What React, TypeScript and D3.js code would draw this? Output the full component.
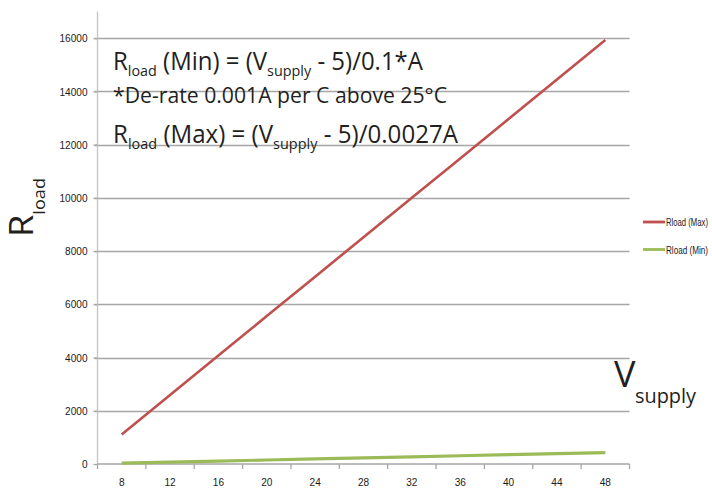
import * as React from "react";
import * as d3 from "d3";

const categories: string[] = ["8", "12", "16", "20", "24", "28", "32", "36", "40", "44", "48"];
const rloadMax: number[] = [1111, 2593, 4074, 5556, 7037, 8519, 10000, 11481, 12963, 14444, 15926];
const rloadMin: number[] = [30, 70, 110, 150, 190, 230, 270, 310, 350, 390, 430];
const yTicks: number[] = [0, 2000, 4000, 6000, 8000, 10000, 12000, 14000, 16000];
const seriesNames: string[] = ["Rload (Max)", "Rload (Min)"];

const red: string = "#c0504d";
const green: string = "#9bbb59";
const gridGrey: string = "#a6a6a6";
const axisGrey: string = "#c4c4c4";
const mainFont: string = "'Open Sans', 'DejaVu Sans', sans-serif";
const narrowFont: string = "'Liberation Sans', 'DejaVu Sans', sans-serif";

const W: number = 712;
const H: number = 490;
const plot = { left: 97.5, right: 629.5, top: 11.5, bottom: 464 };
const digitW: number = 5.6; // condensed digit width

export default function App(): JSX.Element {
    const ref = React.useRef<SVGGElement>(null);

    React.useEffect(() => {
        document.body.style.margin = "0";
        const g = d3.select(ref.current);
        g.selectAll("*").remove();

        const x = d3.scaleBand<string>().domain(categories).range([plot.left, plot.right]).padding(0);
        const y = d3.scaleLinear().domain([0, 17000]).range([plot.bottom, plot.top]);
        const cx = (c: string): number => (x(c) as number) + x.bandwidth() / 2;

        // gridlines
        g.append("g")
            .selectAll("line")
            .data(yTicks.filter((t) => t > 0))
            .enter().append("line")
            .attr("x1", plot.left - 3)
            .attr("x2", plot.right)
            .attr("y1", (d) => Math.round(y(d)) + 0.5)
            .attr("y2", (d) => Math.round(y(d)) + 0.5)
            .attr("stroke", gridGrey)
            .attr("stroke-width", 1.3);

        // y axis
        const yAxis = d3.axisLeft(y).tickValues(yTicks).tickSize(4).tickPadding(6).tickFormat(d3.format("d"));
        const yG = g.append("g").attr("transform", `translate(${plot.left},0)`).call(yAxis);
        yG.select(".domain").attr("stroke", axisGrey).attr("stroke-width", 1.3).attr("d", `M0,${plot.bottom}V${plot.top}`);
        yG.selectAll(".tick line").attr("stroke", gridGrey).attr("stroke-width", 1.3);
        yG.selectAll<SVGTextElement, number>(".tick text")
            .attr("font-family", narrowFont)
            .attr("font-size", 11.5)
            .attr("fill", "#1a1a1a")
            .attr("textLength", (d) => String(d).length * digitW)
            .attr("lengthAdjust", "spacingAndGlyphs");

        // x axis, ticks between categories
        const xAxis = d3.axisBottom(x).tickSize(0).tickPadding(14);
        const xG = g.append("g").attr("transform", `translate(0,${plot.bottom})`).call(xAxis);
        xG.select(".domain").attr("stroke", gridGrey).attr("stroke-width", 1.3).attr("d", `M${plot.left},0H${plot.right}`);
        xG.selectAll<SVGTextElement, string>(".tick text")
            .attr("font-family", narrowFont)
            .attr("font-size", 11.5)
            .attr("fill", "#1a1a1a")
            .attr("textLength", (d) => d.length * digitW)
            .attr("lengthAdjust", "spacingAndGlyphs");
        const bounds: number[] = categories.map((c) => x(c) as number).concat([plot.right]);
        xG.selectAll(".sep")
            .data(bounds)
            .enter().append("line")
            .attr("x1", (d) => d)
            .attr("x2", (d) => d)
            .attr("y1", 0)
            .attr("y2", 5)
            .attr("stroke", gridGrey)
            .attr("stroke-width", 1.3);

        // series
        const line = d3.line<number>()
            .x((d, i) => cx(categories[i]))
            .y((d) => y(d));
        g.append("path")
            .attr("d", line(rloadMin))
            .attr("fill", "none")
            .attr("stroke", green)
            .attr("stroke-width", 3.2);
        g.append("path")
            .attr("d", line(rloadMax))
            .attr("fill", "none")
            .attr("stroke", red)
            .attr("stroke-width", 2.6);

        // legend
        const legend = g.append("g");
        [red, green].forEach((col, i) => {
            const ly: number = 222 + i * 27.5;
            legend.append("line")
                .attr("x1", 643).attr("x2", 665)
                .attr("y1", ly).attr("y2", ly)
                .attr("stroke", col)
                .attr("stroke-width", 2.8);
            legend.append("text")
                .attr("x", 666).attr("y", ly + 4)
                .attr("font-family", narrowFont)
                .attr("font-size", 11)
                .attr("fill", "#1a1a1a")
                .attr("textLength", 42)
                .attr("lengthAdjust", "spacingAndGlyphs")
                .text(seriesNames[i]);
        });
    }, []);

    return (
        <svg width={W} height={H} style={{ display: "block", position: "absolute", left: 0, top: 0, background: "#fff" }}>
            <g ref={ref} />
            <g fontFamily={mainFont} fill="#231f20">
                <text x={113} y={70} fontSize={25} textLength={310} lengthAdjust="spacingAndGlyphs">
                    R<tspan fontSize={15} dy={6}>load</tspan>
                    <tspan dy={-6}> (Min) = (V</tspan>
                    <tspan fontSize={15} dy={6}>supply</tspan>
                    <tspan dy={-6}> - 5)/0.1*A</tspan>
                </text>
                <text x={113} y={103} fontSize={21.5} textLength={334} lengthAdjust="spacingAndGlyphs">
                    *De-rate 0.001A per C above 25°C
                </text>
                <text x={113} y={143} fontSize={25} textLength={345} lengthAdjust="spacingAndGlyphs">
                    R<tspan fontSize={15} dy={6}>load</tspan>
                    <tspan dy={-6}> (Max) = (V</tspan>
                    <tspan fontSize={15} dy={6}>supply</tspan>
                    <tspan dy={-6}> - 5)/0.0027A</tspan>
                </text>
                <text transform="translate(33,237) rotate(-90)" fontSize={32} textLength={59} lengthAdjust="spacingAndGlyphs">
                    R<tspan fontSize={16} dy={12}>load</tspan>
                </text>
                <text x={614} y={387} fontSize={36}>V</text>
                <text x={635} y={403} fontSize={20} textLength={61} lengthAdjust="spacingAndGlyphs">supply</text>
            </g>
        </svg>
    );
}
